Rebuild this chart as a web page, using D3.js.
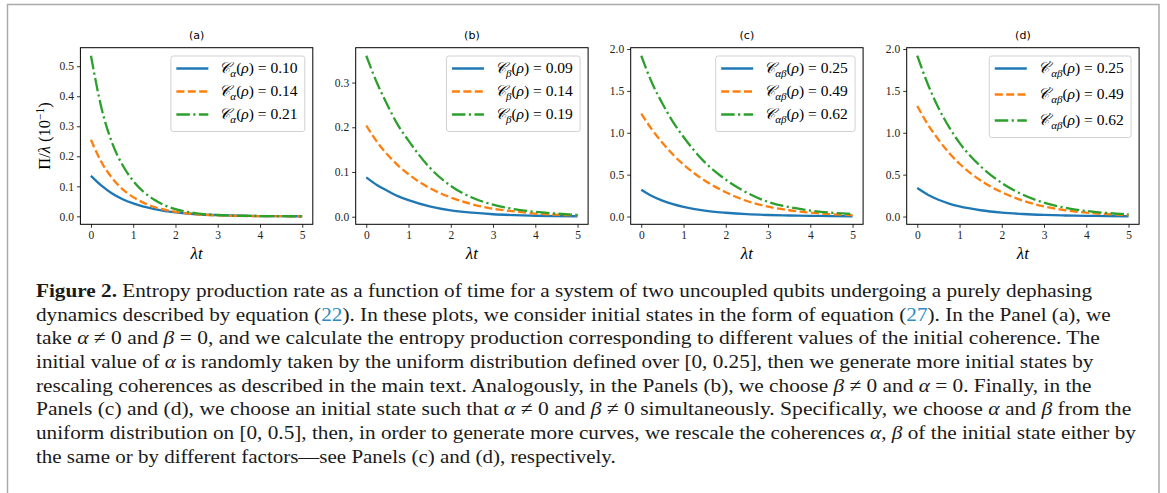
<!DOCTYPE html>
<html>
<head>
<meta charset="utf-8">
<title>Figure 2</title>
<script src="https://cdn.jsdelivr.net/npm/d3@7"></script>
<style>
  body { margin: 0; background: #fff; }
  .tick line { stroke: #000; stroke-width: 0.8px; }
  .frame { fill: none; stroke: #000; stroke-width: 1px; }
  .title { font-family: "DejaVu Sans", sans-serif; font-size: 11px; fill: #000; }
  .lab { font-family: "Liberation Serif", serif; fill: #000; }
  .leg { font-family: "Liberation Serif", serif; font-size: 15.5px; fill: #000; }
  .caption { font-family: "Liberation Serif", serif; font-size: 19.5px; fill: #1a1a1a; }
</style>
</head>
<body>
<script>
// time grid shared by all curves
var tVals = [0, 0.25, 0.5, 0.75, 1, 1.5, 2, 2.5, 3, 3.5, 4, 4.5, 5];
var xTicks = [0, 1, 2, 3, 4, 5];

// panel (a)
var a1 = [0.135, 0.102, 0.076, 0.057, 0.043, 0.024, 0.013, 0.007, 0.004, 0.002, 0.001, 0.0005, 0.0003];
var a2 = [0.255, 0.18, 0.128, 0.09, 0.064, 0.031, 0.015, 0.007, 0.003, 0.0015, 0.0008, 0.0004, 0.0002];
var a3 = [0.535, 0.36, 0.245, 0.17, 0.118, 0.055, 0.024, 0.01, 0.0045, 0.002, 0.001, 0.0005, 0.0002];
// panel (b)
var b1 = [0.088, 0.071, 0.058, 0.046, 0.037, 0.023, 0.014, 0.009, 0.0055, 0.0035, 0.0022, 0.0014, 0.001];
var b2 = [0.204, 0.168, 0.139, 0.115, 0.095, 0.064, 0.043, 0.028, 0.018, 0.012, 0.007, 0.0045, 0.003];
var b3 = [0.36, 0.3, 0.25, 0.205, 0.17, 0.11, 0.069, 0.043, 0.027, 0.017, 0.011, 0.007, 0.004];
// panel (c)
var c1 = [0.32, 0.245, 0.19, 0.148, 0.115, 0.07, 0.045, 0.028, 0.018, 0.012, 0.008, 0.005, 0.003];
var c2 = [1.23, 1.04, 0.88, 0.74, 0.62, 0.43, 0.29, 0.185, 0.118, 0.075, 0.046, 0.028, 0.017];
var c3 = [1.92, 1.6, 1.35, 1.13, 0.95, 0.65, 0.44, 0.285, 0.175, 0.112, 0.071, 0.045, 0.03];
// panel (d)
var d1 = [0.34, 0.26, 0.2, 0.155, 0.12, 0.075, 0.047, 0.03, 0.019, 0.012, 0.008, 0.005, 0.003];
var d2 = [1.32, 1.1, 0.92, 0.76, 0.63, 0.43, 0.29, 0.19, 0.12, 0.075, 0.046, 0.028, 0.017];
var d3v = [1.92, 1.58, 1.3, 1.07, 0.88, 0.6, 0.4, 0.26, 0.165, 0.105, 0.066, 0.042, 0.027];

var yTicksA = [0, 0.1, 0.2, 0.3, 0.4, 0.5];
var yTicksB = [0, 0.1, 0.2, 0.3];
var yTicksCD = [0, 0.5, 1.0, 1.5, 2.0];

var titles = ["(a)", "(b)", "(c)", "(d)"];
var legSubs = ["α", "β", "αβ", "αβ"];
var legPrime = [false, false, false, true];
var legValsA = ["0.10", "0.14", "0.21"];
var legValsB = ["0.09", "0.14", "0.19"];
var legValsC = ["0.25", "0.49", "0.62"];
var legValsD = ["0.25", "0.49", "0.62"];

var colors = ["#1f77b4", "#ff7f0e", "#2ca02c"];
var dashes = [null, "8,3.4", "13.5,3.4,2.2,3.4"];

var panels = [
  {series: [a1, a2, a3], ticks: yTicksA, leg: legValsA},
  {series: [b1, b2, b3], ticks: yTicksB, leg: legValsB},
  {series: [c1, c2, c3], ticks: yTicksCD, leg: legValsC},
  {series: [d1, d2, d3v], ticks: yTicksCD, leg: legValsD}
];

var svg = d3.select("body").append("svg")
    .attr("width", 1167)
    .attr("height", 493);

// page frame (bottom edge falls outside)
svg.append("rect")
    .attr("x", 7.5).attr("y", 4.5)
    .attr("width", 1151.5).attr("height", 540)
    .attr("fill", "none").attr("stroke", "#aaa").attr("stroke-width", 1.5);

var axLeft = [80.4, 355.7, 630.7, 906.7], axW = 232.4, axTop = 47.7, axH = 176.6;

function styleTicks(sel) {
  sel.selectAll(".tick text")
    .attr("font-family", "Liberation Serif, serif")
    .attr("font-size", "11.5px")
    .attr("fill", "#222");
}

panels.forEach(function(p, i) {
  var g = svg.append("g").attr("transform", "translate(" + axLeft[i] + "," + axTop + ")");

  var x = d3.scaleLinear().domain([-0.25, 5.25]).range([0, axW]);
  var all = d3.merge(p.series);
  var lo = d3.min(all), hi = d3.max(all), pad = (hi - lo) * 0.05;
  var y = d3.scaleLinear().domain([lo - pad, hi + pad]).range([axH, 0]);

  var xa = g.append("g").attr("transform", "translate(0," + axH + ")")
      .call(d3.axisBottom(x).tickValues(xTicks).tickSize(3.5).tickPadding(3).tickFormat(d3.format("d")));
  xa.select(".domain").remove();
  styleTicks(xa);
  var ya = g.append("g")
      .call(d3.axisLeft(y).tickValues(p.ticks).tickSize(3.5).tickPadding(3).tickFormat(d3.format(".1f")));
  ya.select(".domain").remove();
  styleTicks(ya);

  g.append("clipPath").attr("id", "clip" + i)
    .append("rect").attr("width", axW).attr("height", axH);

  var line = d3.line()
      .x(function(d, k) { return x(tVals[k]); })
      .y(function(d) { return y(d); })
      .curve(d3.curveMonotoneX);

  p.series.forEach(function(s, k) {
    g.append("path")
      .attr("d", line(s))
      .attr("clip-path", "url(#clip" + i + ")")
      .attr("fill", "none")
      .attr("stroke", colors[k])
      .attr("stroke-width", 2.3)
      .attr("stroke-dasharray", dashes[k]);
  });

  g.append("rect").attr("class", "frame").attr("width", axW).attr("height", axH);

  g.append("text").attr("class", "title")
    .attr("x", axW / 2).attr("y", -8.5)
    .attr("text-anchor", "middle")
    .text(titles[i]);

  g.append("text").attr("class", "lab")
    .attr("x", axW / 2).attr("y", axH + 35)
    .attr("text-anchor", "middle")
    .style("font-size", "17px")
    .call(function(t) {
      t.append("tspan").style("font-style", "italic").text("λt");
    });

  // legend
  var rowGap = legPrime[i] ? 26 : 23;
  var lg = g.append("g");
  var texts = [];
  p.leg.forEach(function(v, k) {
    var ry = 20.8 + k * rowGap;
    var t = lg.append("text").attr("class", "leg").attr("x", 49).attr("y", ry + 5);
    t.append("tspan").style("font-style", "italic").text("𝒞");
    if (legPrime[i]) {
      t.append("tspan").attr("dy", -5.5).style("font-size", "11px").text("′");
      t.append("tspan").attr("dy", 9.5).style("font-size", "11px").style("font-style", "italic").text(legSubs[i]);
      t.append("tspan").attr("dy", -4).text("(");
    } else {
      t.append("tspan").attr("dy", 3.5).style("font-size", "11px").style("font-style", "italic").text(legSubs[i]);
      t.append("tspan").attr("dy", -3.5).text("(");
    }
    t.append("tspan").style("font-style", "italic").text("ρ");
    t.append("tspan").text(") = " + v);
    lg.append("line")
      .attr("x1", 6).attr("x2", 38).attr("y1", ry).attr("y2", ry)
      .attr("stroke", colors[k]).attr("stroke-width", 2.3)
      .attr("stroke-dasharray", dashes[k]);
    texts.push(t);
  });
  var tw = d3.max(texts, function(t) { return t.node().getBBox().width; });
  var bw = 49 + tw + 6.5;
  var bh = 12.5 + 2 * rowGap + 17;
  lg.insert("rect", ":first-child")
    .attr("x", 0.5).attr("y", 8.3).attr("width", bw).attr("height", bh)
    .attr("rx", 2.5)
    .attr("fill", "#fff").attr("fill-opacity", 0.8)
    .attr("stroke", "#ccc").attr("stroke-width", 0.9);
  lg.attr("transform", "translate(" + (axW - 8.5 - bw) + ",0)");
});

// y label on first panel
svg.append("text").attr("class", "lab")
  .attr("transform", "translate(50," + (axTop + axH / 2) + ") rotate(-90)")
  .attr("text-anchor", "middle")
  .style("font-size", "16.5px")
  .call(function(t) {
    t.append("tspan").text("Π/");
    t.append("tspan").style("font-style", "italic").text("λ");
    t.append("tspan").text(" (10");
    t.append("tspan").attr("dy", -6).style("font-size", "11.5px").text("−1");
    t.append("tspan").attr("dy", 6).text(")");
  });

// caption
var captionLines = [
  [["Figure 2.", "b"], [" Entropy production rate as a function of time for a system of two uncoupled qubits undergoing a purely dephasing", ""]],
  [["dynamics described by equation (", ""], ["22", "link"], ["). In these plots, we consider initial states in the form of equation (", ""], ["27", "link"], ["). In the Panel (a), we", ""]],
  [["take ", ""], ["α", "i"], [" ≠ 0 and ", ""], ["β", "i"], [" = 0, and we calculate the entropy production corresponding to different values of the initial coherence. The", ""]],
  [["initial value of ", ""], ["α", "i"], [" is randomly taken by the uniform distribution defined over [0, 0.25], then we generate more initial states by", ""]],
  [["rescaling coherences as described in the main text. Analogously, in the Panels (b), we choose ", ""], ["β", "i"], [" ≠ 0 and ", ""], ["α", "i"], [" = 0. Finally, in the", ""]],
  [["Panels (c) and (d), we choose an initial state such that ", ""], ["α", "i"], [" ≠ 0 and ", ""], ["β", "i"], [" ≠ 0 simultaneously. Specifically, we choose ", ""], ["α", "i"], [" and ", ""], ["β", "i"], [" from the", ""]],
  [["uniform distribution on [0, 0.5], then, in order to generate more curves, we rescale the coherences ", ""], ["α", "i"], [", ", ""], ["β", "i"], [" of the initial state either by", ""]],
  [["the same or by different factors—see Panels (c) and (d), respectively.", ""]]
];
var lineEnds = [1093, 1111, 1101, 1094, 1092, 1132, 1137, 616];
var capX = 36;

captionLines.forEach(function(segs, i) {
  var t = svg.append("text").attr("class", "caption")
      .attr("x", capX).attr("y", 297 + i * 23.7);
  segs.forEach(function(s) {
    var sp = t.append("tspan").text(s[0]);
    if (s[1] === "b") sp.style("font-weight", "bold");
    if (s[1] === "i") sp.style("font-style", "italic");
    if (s[1] === "link") sp.style("fill", "#2b8cc4");
  });
  var w = t.node().getBBox().width;
  var sx = (lineEnds[i] - capX) / w;
  t.attr("transform", "translate(" + capX + ",0) scale(" + sx + ",1) translate(" + (-capX) + ",0)");
});
</script>
</body>
</html>
